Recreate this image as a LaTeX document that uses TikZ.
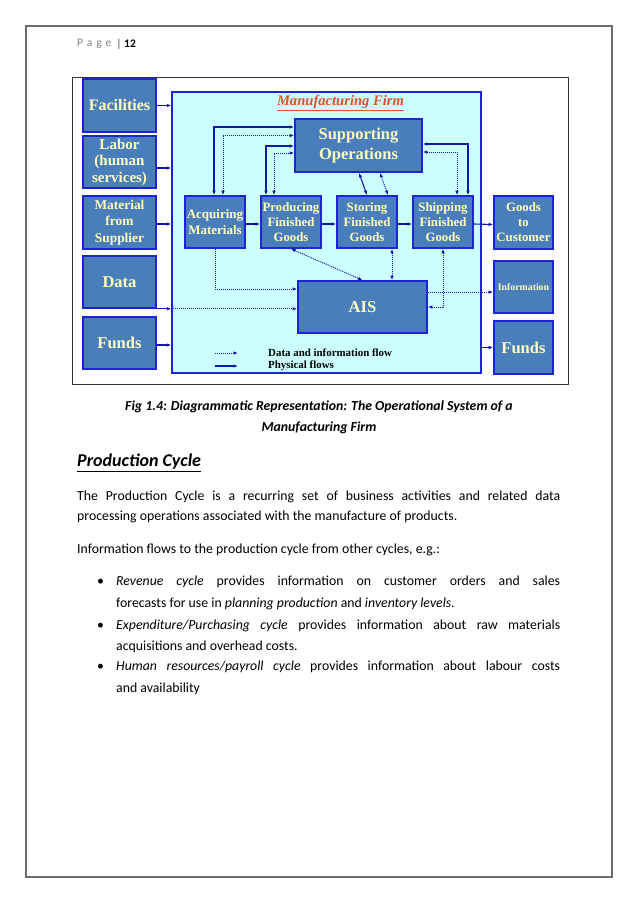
\documentclass[tikz,border=0pt]{standalone}
\usepackage{fontspec}
\setmainfont{Carlito}
\newfontfamily\dfont{Liberation Serif}
\usetikzlibrary{arrows.meta,calc}
\definecolor{boxblue}{RGB}{74,126,187}
\definecolor{bord}{RGB}{28,36,212}
\definecolor{lcyan}{RGB}{204,255,255}
\definecolor{boxtxt}{RGB}{255,255,190}
\definecolor{arr}{RGB}{20,24,170}
\definecolor{ttl}{RGB}{222,82,40}
\definecolor{pgborder}{RGB}{110,110,110}
\begin{document}
\begin{tikzpicture}[x=1pt,y=-1pt,
  box/.style={draw=bord, fill=boxblue, line width=1.6pt, text=boxtxt, align=center, inner sep=0pt},
  phys/.style={draw=arr, line width=1.1pt},
  dflow/.style={draw=arr, line width=1pt, densely dotted},
  >={Latex[length=4.5pt,width=3.5pt]},
  bodytxt/.style={anchor=west, inner sep=0pt, font=\fontsize{13.8}{16}\selectfont},
  legtxt/.style={anchor=west, inner sep=0pt, font=\dfont\bfseries\fontsize{10.9}{12}\selectfont}]
\useasboundingbox (0,0) rectangle (638,903);
\fill[white] (0,0) rectangle (638,903);
% page border
\node[draw=pgborder, line width=1.4pt, minimum width=586pt, minimum height=851pt, inner sep=0pt] (page) at (319,451.5) {};
% header
\node[anchor=west, inner sep=0pt, font=\fontsize{11.5}{13}\selectfont, text=gray] (pg) at (77,44) {P\,\,a\,\,g\,\,e};
\node[inner sep=0pt, font=\fontsize{11.5}{13}\selectfont, text=black!70] (bar) at (119,44) {|};
\node[anchor=west, inner sep=0pt, font=\bfseries\fontsize{11.5}{13}\selectfont] (num) at (124,44) {12};
% diagram frame
\node[draw=black!80, line width=0.9pt, minimum width=496pt, minimum height=307pt, inner sep=0pt] (frame) at (320,230.5) {};
\node[draw=bord, fill=lcyan, line width=1.3pt, minimum width=309pt, minimum height=281pt, inner sep=0pt] (firm) at (326.5,232.5) {};
\node[inner sep=0pt, text=ttl, font=\dfont\bfseries\itshape\fontsize{14.6}{16}\selectfont] (title) at (340.5,103) {\underline{Manufacturing Firm}};
% left boxes
\node[box, minimum width=73pt, minimum height=53pt, font=\dfont\bfseries\fontsize{16}{18}\selectfont] (fac) at (119.5,105.5) {Facilities};
\node[box, minimum width=73pt, minimum height=52pt, font=\dfont\bfseries\fontsize{15}{16.5}\selectfont] (lab) at (119.5,162) {Labor\\(human\\services)};
\node[box, minimum width=73pt, minimum height=53pt, font=\dfont\bfseries\fontsize{13.4}{16.5}\selectfont] (mat) at (119.5,222.5) {Material\\from\\Supplier};
\node[box, minimum width=73pt, minimum height=52pt, font=\dfont\bfseries\fontsize{16.5}{18}\selectfont] (data) at (119.5,282) {Data};
\node[box, minimum width=73pt, minimum height=52pt, font=\dfont\bfseries\fontsize{16.5}{18}\selectfont] (fundl) at (119.5,343) {Funds};
% inner boxes
\node[box, minimum width=127pt, minimum height=53pt, font=\dfont\bfseries\fontsize{16.5}{20}\selectfont] (sup) at (358.5,145.5) {Supporting\\Operations};
\node[box, minimum width=60pt, minimum height=52pt, font=\dfont\bfseries\fontsize{13}{16}\selectfont] (acq) at (215,222) {Acquiring\\Materials};
\node[box, minimum width=60pt, minimum height=52pt, font=\dfont\bfseries\fontsize{12.8}{15}\selectfont] (prod) at (291,222) {Producing\\Finished\\Goods};
\node[box, minimum width=60pt, minimum height=52pt, font=\dfont\bfseries\fontsize{12.8}{15}\selectfont] (stor) at (367,222) {Storing\\Finished\\Goods};
\node[box, minimum width=60pt, minimum height=52pt, font=\dfont\bfseries\fontsize{12.8}{15}\selectfont] (ship) at (443,222) {Shipping\\Finished\\Goods};
\node[box, minimum width=129pt, minimum height=52pt, font=\dfont\bfseries\fontsize{16.6}{18}\selectfont] (ais) at (362.5,307) {AIS};
% right boxes
\node[box, minimum width=59pt, minimum height=53pt, font=\dfont\bfseries\fontsize{12.8}{15}\selectfont] (goods) at (523.5,222.5) {Goods\\to\\Customer};
\node[box, minimum width=59pt, minimum height=52pt, font=\dfont\bfseries\fontsize{9.8}{11}\selectfont] (infobox) at (523.5,287) {Information};
\node[box, minimum width=59pt, minimum height=53pt, font=\dfont\bfseries\fontsize{16.5}{18}\selectfont] (fundr) at (523.5,347.5) {Funds};
% inputs
\draw[phys,->] (fac.east) -- (fac.east -| firm.west);
\draw[phys,->] ([yshift=-6pt]lab.east) -- ([yshift=-6pt]lab.east -| firm.west);
\draw[phys,->] ([yshift=-1.5pt]mat.east) -- ([yshift=-1.5pt]mat.east -| firm.west);
\draw[phys,->] (data.south east) -- (data.south east -| firm.west);
\draw[dflow,->] (data.south east -| firm.west) -- (data.south east -| ais.west);
\draw[phys,->] ([yshift=-2pt]fundl.east) -- ([yshift=-2pt]fundl.east -| firm.west);
% supporting operations links
\draw[phys,<->] ([xshift=-1pt]acq.north) |- ([yshift=18.5pt]sup.west);
\draw[dflow,<->] ([xshift=8pt]acq.north) |- ([yshift=10pt]sup.west);
\draw[phys,<->] ([xshift=-25pt]prod.north) |- ([yshift=-0.5pt]sup.west);
\draw[dflow,<->] ([xshift=-17pt]prod.north) |- ([yshift=-7.5pt]sup.west);
\draw[phys,<->] ([xshift=25pt]ship.north) |- ([yshift=1.5pt]sup.east);
\draw[dflow,<->] ([xshift=14pt]ship.north) |- ([yshift=-6.5pt]sup.east);
\draw[phys,<->] ([xshift=0.5pt]sup.south) -- (stor.north);
\draw[dflow,<->] ([xshift=21.5pt]sup.south) -- ([xshift=21pt]stor.north);
% physical chain
\draw[phys,->] ([yshift=-2pt]acq.east) -- ([yshift=-2pt]prod.west);
\draw[phys,->] ([yshift=-2pt]prod.east) -- ([yshift=-2pt]stor.west);
\draw[phys,->] ([yshift=-2pt]stor.east) -- ([yshift=-2pt]ship.west);
\draw[phys,->] ([yshift=-2pt]ship.east) -- ([yshift=-2pt]goods.west);
% AIS links
\draw[dflow,<->] (prod.south) -- (ais.north);
\draw[dflow,<->] ([xshift=25pt]stor.south) -- ([xshift=25pt]stor.south |- ais.north);
\draw[dflow,<->] (ship.south) |- (ais.east);
\draw[dflow,->] (acq.south) |- ([yshift=18pt]ais.west);
\draw[dflow,->] ([yshift=15pt]ais.east) -- ([yshift=15pt]ais.east -| infobox.west);
\draw[phys,->] (fundr.west -| firm.east) -- (fundr.west);
% legend
\coordinate (la1) at (215,353);
\coordinate (la2) at (238,353);
\coordinate (lb1) at (215,366);
\coordinate (lb2) at (238,366);
\draw[dflow,->] (la1) -- (la2);
\draw[phys,->] (lb1) -- (lb2);
\node[legtxt] (leg1) at (268,353) {Data and information flow};
\node[legtxt] (leg2) at (268,366) {Physical flows};
% caption
\node[inner sep=0pt, font=\bfseries\itshape\fontsize{13.8}{16}\selectfont] (cap1) at (319,407) {Fig 1.4: Diagrammatic Representation: The Operational System of a};
\node[inner sep=0pt, font=\bfseries\itshape\fontsize{13.8}{16}\selectfont] (cap2) at (319,428) {Manufacturing Firm};
% heading
\node[anchor=west, inner sep=0pt, font=\bfseries\itshape\fontsize{18}{20}\selectfont] (head) at (77,463) {\underline{Production Cycle}};
% body
\node[bodytxt] (b1) at (77,497) {\makebox[483pt][s]{The Production Cycle is a recurring set of business activities and related data}};
\node[bodytxt] (b2) at (77,517) {processing operations associated with the manufacture of products.};
\node[bodytxt] (b3) at (77,550) {Information flows to the production cycle from other cycles, e.g.:};
\node[bodytxt] (u1) at (97,582) {\textbullet};
\node[bodytxt] (b4) at (116,582) {\makebox[444pt][s]{\textit{Revenue cycle} provides information on customer orders and sales}};
\node[bodytxt] (b5) at (116,604) {forecasts for use in \textit{planning production} and \textit{inventory levels.}};
\node[bodytxt] (u2) at (97,626) {\textbullet};
\node[bodytxt] (b6) at (116,626) {\makebox[444pt][s]{\textit{Expenditure/Purchasing cycle} provides information about raw materials}};
\node[bodytxt] (b7) at (116,647) {acquisitions and overhead costs.};
\node[bodytxt] (u3) at (97,667) {\textbullet};
\node[bodytxt] (b8) at (116,667) {\makebox[444pt][s]{\textit{Human resources/payroll cycle} provides information about labour costs}};
\node[bodytxt] (b9) at (116,689) {and availability};
\end{tikzpicture}
\end{document}
